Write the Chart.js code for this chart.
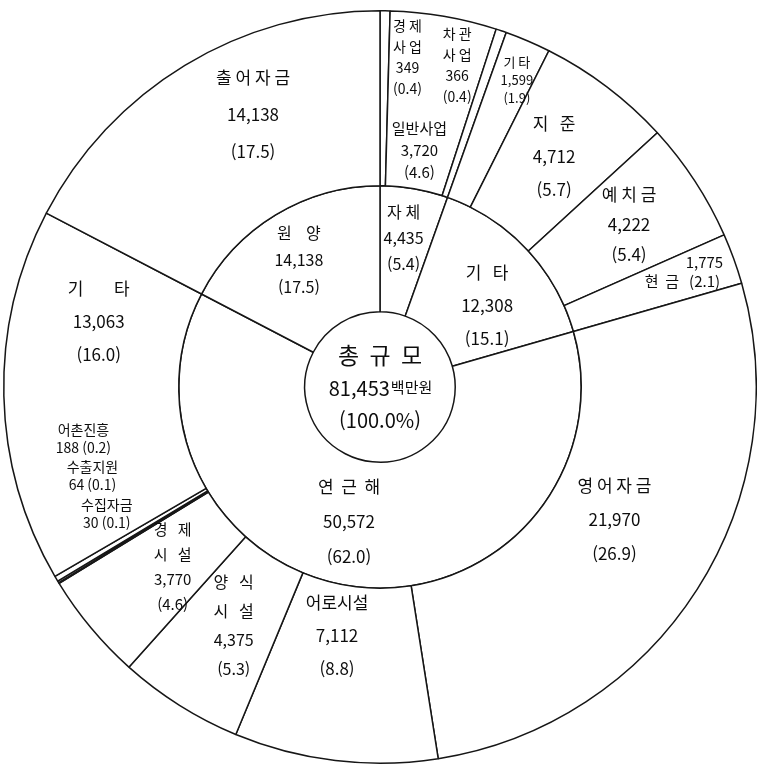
<!DOCTYPE html>
<html lang="ko">
<head>
<meta charset="utf-8">
<script src="https://cdn.jsdelivr.net/npm/chart.js@4.4.1/dist/chart.umd.min.js"></script>
<style>
  html, body { margin: 0; padding: 0; background: #fff; }
  #wrap { width: 757px; height: 769px; position: relative; }
</style>
</head>
<body>
<div id="wrap"><canvas id="pie"></canvas></div>
<script>
// outer ring, clockwise from 12 o'clock
const outerNames = ["경제사업", "일반사업", "차관사업", "기타", "지준", "예치금", "현금",
  "영어자금", "어로시설", "양식시설", "경제시설", "수집자금", "수출지원", "어촌진흥", "기타", "출어자금"];
const outerValues = [349, 3720, 366, 1599, 4712, 4222, 1775,
  21970, 7112, 4375, 3770, 30, 64, 188, 13063, 14138];
const outerShares = ["0.4", "4.6", "0.4", "1.9", "5.7", "5.4", "2.1",
  "26.9", "8.8", "5.3", "4.6", "0.1", "0.1", "0.2", "16.0", "17.5"];

// inner ring
const innerNames = ["자체", "기타", "연근해", "원양"];
const innerValues = [4435, 12308, 50572, 14138];
const innerShares = ["5.4", "15.1", "62.0", "17.5"];

const totalName = "총규모";
const totalValue = 81453;
const totalUnit = "백만원";
const totalShare = "100.0%";

const FONT = "'Noto Sans CJK KR', 'Noto Sans', sans-serif";

// where each label sits: da = angle nudge (deg) from slice middle, rf = 0 inner edge .. 1 outer edge
const outerPlace = [
  {da: 4.0, rf: 0.74, kind: "split", size: 14, lh: 21, sp: 1},
  {da: -0.3, rf: 0.22, kind: "stack", size: 15, lh: 22, sp: 0},
  {da: -5.3, rf: 0.74, kind: "split", size: 14, lh: 21, sp: 1},
  {da: 0.9, rf: 0.77, kind: "stack", size: 13, lh: 18, sp: 1},
  {da: 0, rf: 0.5, kind: "stack", size: 17, lh: 33, sp: 3},
  {da: 0, rf: 0.55, kind: "stack", size: 17, lh: 30, sp: 1},
  {da: -1, rf: 0.7, kind: "cash", size: 15, lh: 19, sp: 2},
  {da: -3, rf: 0.39, kind: "stack", size: 17, lh: 34, sp: 1},
  {da: 3, rf: 0.29, kind: "stack", size: 17, lh: 33, sp: 0},
  {da: -0.7, rf: 0.45, kind: "split", size: 16, lh: 29, sp: 3},
  {da: -1.2, rf: 0.42, kind: "split", size: 15, lh: 25, sp: 3},
  {da: 6.6, rf: 0.57, kind: "pair", size: 14, lh: 18, sp: 0},
  {da: 14, rf: 0.57, kind: "pair", size: 14, lh: 18, sp: 0},
  {da: 20.8, rf: 0.57, kind: "pair", size: 14, lh: 18, sp: 0},
  {da: 14.4, rf: 0.5, kind: "stack", size: 17, lh: 33, sp: 8},
  {da: 6.3, rf: 0.57, kind: "stack", size: 17, lh: 37, sp: 1}
];
const innerPlace = [
  {da: -0.8, rf: 0.6, kind: "stack", size: 16, lh: 26, sp: 1},
  {da: 6, rf: 0.47, kind: "stack", size: 17, lh: 33, sp: 3},
  {da: 7.2, rf: 0.5, kind: "stack", size: 17, lh: 35, sp: 2},
  {da: -1.3, rf: 0.6, kind: "stack", size: 16, lh: 27, sp: 4}
];

function fmt(v) { return v.toLocaleString("en-US"); }
function spaced(s, n) { return s.split("").join(" ".repeat(n)); }

// returns [text, x shift] pairs
function makeLines(name, v, pct, pl) {
  const p = "(" + pct + ")";
  if (pl.kind === "split") return [[spaced(name.slice(0, 2), pl.sp), 0], [spaced(name.slice(2), pl.sp), 0], [fmt(v), 0], [p, 0]];
  if (pl.kind === "pair") return [[name, 0], [fmt(v) + " " + p, 0]];
  if (pl.kind === "cash") return [[fmt(v), 22], [spaced(name, pl.sp) + "   " + p, 0]];
  return [[spaced(name, pl.sp), 0], [fmt(v), 0], [p, 0]];
}

const ringText = {
  id: "ringText",
  afterDatasetsDraw(chart) {
    const ctx = chart.ctx;
    ctx.save();
    ctx.fillStyle = "#0d0d0d";
    ctx.textAlign = "center";
    ctx.textBaseline = "middle";
    const sets = [
      [outerNames, outerValues, outerShares, outerPlace],
      [innerNames, innerValues, innerShares, innerPlace]
    ];
    sets.forEach((set, di) => {
      const meta = chart.getDatasetMeta(di);
      meta.data.forEach((arc, i) => {
        const p = arc.getProps(["x", "y", "startAngle", "endAngle", "innerRadius", "outerRadius"], true);
        const pl = set[3][i];
        const a = (p.startAngle + p.endAngle) / 2 + pl.da * Math.PI / 180;
        const r = p.innerRadius + pl.rf * (p.outerRadius - p.innerRadius);
        const x = p.x + r * Math.cos(a);
        const y = p.y + r * Math.sin(a);
        const lines = makeLines(set[0][i], set[1][i], set[2][i], pl);
        ctx.font = pl.size + "px " + FONT;
        lines.forEach((ln, k) => ctx.fillText(ln[0], x + ln[1], y + (k - (lines.length - 1) / 2) * pl.lh));
      });
    });

    // centre circle text
    const c = chart.getDatasetMeta(1).data[0];
    const cx = c.x, cy = c.y;
    ctx.font = "23px " + FONT;
    ctx.fillText(spaced(totalName, 2), cx, cy - 32);
    ctx.font = "20px " + FONT;
    const w1 = ctx.measureText(fmt(totalValue)).width;
    ctx.font = "15px " + FONT;
    const w2 = ctx.measureText(totalUnit).width;
    const x0 = cx - (w1 + w2) / 2;
    ctx.textAlign = "left";
    ctx.font = "20px " + FONT;
    ctx.fillText(fmt(totalValue), x0, cy + 1);
    ctx.font = "15px " + FONT;
    ctx.fillText(totalUnit, x0 + w1 + 1, cy);
    ctx.textAlign = "center";
    ctx.font = "20px " + FONT;
    ctx.fillText("(" + totalShare + ")", cx, cy + 33);
    ctx.restore();
  }
};

const ctx = document.getElementById("pie").getContext("2d");
new Chart(ctx, {
  type: "doughnut",
  data: {
    labels: outerNames,
    datasets: [
      {
        data: outerValues,
        backgroundColor: "#ffffff",
        borderColor: "#161616",
        borderWidth: 1.5,
        weight: 175
      },
      {
        data: innerValues,
        backgroundColor: "#ffffff",
        borderColor: "#161616",
        borderWidth: 1.5,
        weight: 126
      }
    ]
  },
  options: {
    responsive: true,
    maintainAspectRatio: false,
    animation: false,
    events: [],
    cutout: "20%",
    layout: { padding: { left: 3, right: 0, top: 9, bottom: 4 } },
    plugins: {
      legend: { display: false },
      tooltip: { enabled: false }
    }
  },
  plugins: [ringText]
});
</script>
</body>
</html>
